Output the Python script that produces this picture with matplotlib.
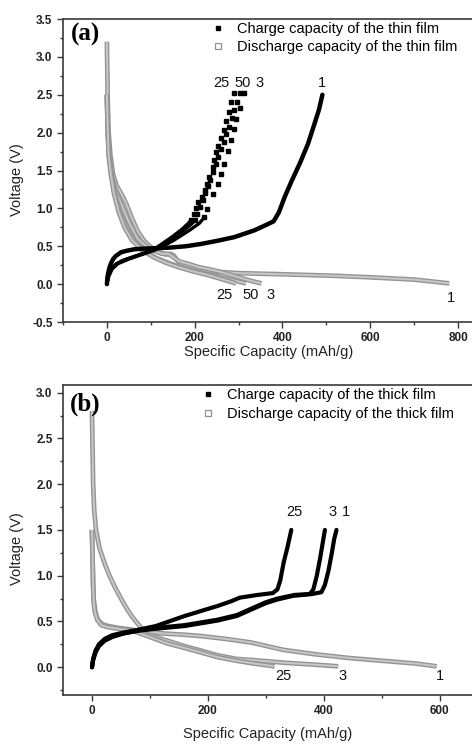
import matplotlib
matplotlib.use("Agg")
import matplotlib.pyplot as plt
from matplotlib.ticker import MultipleLocator, FormatStrFormatter

plt.rcParams['font.family'] = ['Liberation Sans', 'DejaVu Sans']

# ---------------- Panel (a): thin film ----------------
# charge curves (mAh/g, V)
a_chg1_x = [0, 1, 3, 6, 9, 14, 20, 32, 45, 62, 90, 138, 180, 214, 250, 290, 336, 366, 380, 392, 405, 420, 440, 458, 472, 483, 491]
a_chg1_y = [0, 0.08, 0.15, 0.22, 0.27, 0.33, 0.37, 0.42, 0.44, 0.46, 0.47, 0.48, 0.50, 0.53, 0.57, 0.62, 0.71, 0.79, 0.83, 0.95, 1.15, 1.35, 1.60, 1.85, 2.10, 2.30, 2.50]

a_chg25_x = [0, 3, 10, 20, 35, 55, 80, 105, 130, 150, 170, 185, 191]
a_chg25_y = [0, 0.10, 0.20, 0.26, 0.31, 0.35, 0.40, 0.45, 0.55, 0.63, 0.72, 0.80, 0.84]
a_chg25_dx = [191, 198, 203, 208, 216, 223, 228, 233, 241, 245, 248, 254, 260, 266, 271, 279, 283, 290]
a_chg25_dy = [0.84, 0.93, 1.01, 1.08, 1.15, 1.24, 1.32, 1.41, 1.54, 1.64, 1.74, 1.83, 1.93, 2.03, 2.15, 2.27, 2.41, 2.52]

a_chg50_x = [0, 3, 10, 22, 40, 60, 85, 110, 135, 155, 175, 192, 200]
a_chg50_y = [0, 0.10, 0.20, 0.27, 0.32, 0.36, 0.41, 0.46, 0.55, 0.63, 0.71, 0.79, 0.84]
a_chg50_dx = [200, 206, 212, 218, 224, 230, 236, 242, 248, 254, 260, 266, 272, 278, 284, 290, 297, 304]
a_chg50_dy = [0.84, 0.93, 1.02, 1.11, 1.20, 1.29, 1.38, 1.48, 1.58, 1.68, 1.78, 1.88, 1.98, 2.08, 2.19, 2.30, 2.41, 2.52]

a_chg3_x = [0, 4, 12, 25, 50, 80, 110, 150, 188, 210, 222]
a_chg3_y = [0, 0.10, 0.20, 0.27, 0.33, 0.39, 0.45, 0.57, 0.71, 0.80, 0.88]
a_chg3_dx = [222, 229, 241, 252, 260, 267, 275, 282, 289, 294, 304, 313]
a_chg3_dy = [0.88, 0.99, 1.19, 1.32, 1.46, 1.59, 1.76, 1.90, 2.05, 2.18, 2.32, 2.52]

# discharge curves
a_dis1_x = [0, 1, 2, 4, 8, 14, 22, 35, 45, 55, 70, 85, 100, 120, 135, 145, 152, 165, 190, 230, 300, 400, 518, 600, 700, 780]
a_dis1_y = [3.2, 2.8, 2.4, 2.0, 1.7, 1.45, 1.30, 1.17, 1.05, 0.90, 0.70, 0.57, 0.49, 0.42, 0.39, 0.40, 0.38, 0.28, 0.22, 0.17, 0.145, 0.13, 0.11, 0.09, 0.06, 0.01]

a_dis3_x = [0, 2, 6, 12, 22, 35, 50, 70, 95, 125, 140, 150, 165, 190, 205, 230, 260, 300, 330, 352]
a_dis3_y = [2.5, 2.0, 1.65, 1.40, 1.20, 1.02, 0.82, 0.60, 0.47, 0.40, 0.40, 0.36, 0.30, 0.26, 0.23, 0.20, 0.16, 0.09, 0.04, 0.01]

a_dis50_x = [0, 2, 5, 10, 18, 30, 45, 62, 85, 110, 140, 170, 200, 240, 280, 317]
a_dis50_y = [2.5, 2.0, 1.70, 1.45, 1.20, 0.95, 0.74, 0.57, 0.44, 0.35, 0.28, 0.22, 0.17, 0.12, 0.06, 0.01]

a_dis25_x = [0, 2, 4, 9, 16, 27, 40, 57, 80, 105, 135, 165, 195, 230, 265, 294]
a_dis25_y = [2.5, 2.0, 1.70, 1.45, 1.20, 0.95, 0.75, 0.58, 0.45, 0.36, 0.28, 0.22, 0.17, 0.12, 0.06, 0.01]

a_top_labels = ["25", "50", "3", "1"]
a_top_lx = [260, 310, 347, 491]
a_top_ly = [2.66, 2.66, 2.66, 2.66]
a_bot_labels = ["25", "50", "3", "1"]
a_bot_lx = [267, 328, 373, 784]
a_bot_ly = [-0.14, -0.14, -0.14, -0.18]

# ---------------- Panel (b): thick film ----------------
b_chg1_x = [0, 2, 6, 12, 22, 35, 55, 80, 110, 160, 217, 250, 275, 300, 320, 347, 380, 396, 402, 408, 414, 418, 422]
b_chg1_y = [0, 0.08, 0.16, 0.23, 0.29, 0.33, 0.37, 0.40, 0.42, 0.45, 0.51, 0.56, 0.63, 0.70, 0.74, 0.78, 0.80, 0.82, 0.90, 1.05, 1.25, 1.40, 1.50]

b_chg3_x = [0, 2, 6, 12, 22, 35, 55, 80, 110, 160, 217, 250, 275, 300, 320, 350, 376, 382, 388, 394, 398, 402]
b_chg3_y = [0, 0.08, 0.17, 0.24, 0.30, 0.34, 0.37, 0.40, 0.43, 0.46, 0.52, 0.57, 0.64, 0.71, 0.75, 0.79, 0.80, 0.85, 1.00, 1.20, 1.35, 1.50]

b_chg25_x = [0, 2, 6, 12, 22, 35, 55, 80, 110, 160, 217, 240, 255, 286, 312, 320, 325, 331, 337, 344]
b_chg25_y = [0, 0.09, 0.18, 0.25, 0.31, 0.35, 0.38, 0.41, 0.45, 0.56, 0.67, 0.72, 0.76, 0.79, 0.81, 0.85, 0.95, 1.15, 1.30, 1.50]

b_dis1_x = [0, 1, 2, 4, 7, 13, 22, 31, 40, 51, 62, 72, 85, 95, 120, 160, 189, 230, 275, 330, 387, 445, 502, 560, 595]
b_dis1_y = [2.8, 2.4, 2.0, 1.7, 1.5, 1.30, 1.13, 0.99, 0.87, 0.74, 0.62, 0.53, 0.43, 0.39, 0.37, 0.355, 0.34, 0.31, 0.27, 0.19, 0.14, 0.10, 0.07, 0.04, 0.01]

b_dis3_x = [0, 1, 2, 3, 6, 10, 18, 28, 45, 70, 100, 130, 160, 189, 217, 250, 275, 330, 380, 425]
b_dis3_y = [1.5, 1.2, 0.9, 0.74, 0.60, 0.52, 0.47, 0.45, 0.43, 0.41, 0.35, 0.29, 0.23, 0.18, 0.13, 0.09, 0.08, 0.05, 0.03, 0.01]

b_dis25_x = [0, 1, 2, 3, 5, 9, 16, 26, 45, 70, 100, 130, 160, 189, 217, 250, 280, 315]
b_dis25_y = [1.5, 1.2, 0.9, 0.72, 0.60, 0.52, 0.46, 0.44, 0.42, 0.40, 0.33, 0.26, 0.21, 0.16, 0.11, 0.07, 0.04, 0.01]

b_top_labels = ["25", "3", "1"]
b_top_lx = [350, 416, 439]
b_top_ly = [1.70, 1.70, 1.70]
b_bot_labels = ["25", "3", "1"]
b_bot_lx = [330, 433, 600]
b_bot_ly = [-0.10, -0.10, -0.10]

# ---------------- drawing ----------------
W, H = 472, 744
fig = plt.figure(figsize=(W / 100, H / 100), dpi=100)

SPINE = '#3a3a3a'
GRAY_OUT = '#939393'
GRAY_IN = '#c6c6c6'


def draw_charge(ax, x, y, lw=3.0):
    ax.plot(x, y, color='black', lw=lw, solid_capstyle='round', solid_joinstyle='round', zorder=3)


def draw_dots(ax, x, y):
    ax.plot(x, y, 's', color='black', ms=3.0, zorder=3)


def draw_discharge(ax, x, y):
    ax.plot(x, y, color=GRAY_OUT, lw=3.4, solid_capstyle='butt', zorder=2)
    ax.plot(x, y, color=GRAY_IN, lw=1.5, solid_capstyle='butt', zorder=2)


def style_axes(ax):
    for s in ['left', 'bottom', 'top', 'right']:
        ax.spines[s].set_color(SPINE)
        ax.spines[s].set_linewidth(1.2)
    ax.tick_params(which='both', direction='out', color=SPINE, labelsize=8.5,
                   labelcolor='#222222', pad=3)
    ax.tick_params(which='major', length=4.5, width=1)
    ax.tick_params(which='minor', length=2.5, width=1)
    ax.tick_params(top=False, right=False, which='both')
    for lab in ax.get_xticklabels() + ax.get_yticklabels():
        lab.set_fontweight('bold')


def legend(ax, lab1, lab2, anchor):
    h1, = ax.plot([], [], 's', color='black', ms=3.5, label=lab1)
    h2, = ax.plot([], [], 's', mfc='white', mec='#909090', mew=0.9, ms=4.0, label=lab2)
    ax.legend(handles=[h1, h2], loc='upper left', bbox_to_anchor=anchor, frameon=False,
              fontsize=10.5, handlelength=1.0, handletextpad=0.8, labelspacing=0.3,
              borderpad=0, borderaxespad=0)


# axes (a)
axa = fig.add_axes([63 / W, 1 - 322 / H, 417 / W, 303 / H])
axa.set_xlim(-100, 850)
axa.set_ylim(-0.5, 3.5)
axa.xaxis.set_major_locator(MultipleLocator(200))
axa.xaxis.set_minor_locator(MultipleLocator(100))
axa.yaxis.set_major_locator(MultipleLocator(0.5))
axa.yaxis.set_minor_locator(MultipleLocator(0.25))
axa.yaxis.set_major_formatter(FormatStrFormatter('%.1f'))

for x, y in [(a_dis1_x, a_dis1_y), (a_dis3_x, a_dis3_y), (a_dis50_x, a_dis50_y), (a_dis25_x, a_dis25_y)]:
    draw_discharge(axa, x, y)
draw_charge(axa, a_chg1_x, a_chg1_y, lw=3.2)
for x, y in [(a_chg25_x, a_chg25_y), (a_chg50_x, a_chg50_y), (a_chg3_x, a_chg3_y)]:
    draw_charge(axa, x, y, lw=2.4)
for x, y in [(a_chg25_dx, a_chg25_dy), (a_chg50_dx, a_chg50_dy), (a_chg3_dx, a_chg3_dy)]:
    draw_dots(axa, x, y)

for t, x, y in zip(a_top_labels, a_top_lx, a_top_ly):
    axa.text(x, y, t, fontsize=10.5, ha='center', va='center', color='#111111')
for t, x, y in zip(a_bot_labels, a_bot_lx, a_bot_ly):
    axa.text(x, y, t, fontsize=10.5, ha='center', va='center', color='#111111')

axa.text(0.053, 0.95, '(a)', transform=axa.transAxes, fontsize=18, fontweight='bold',
         family=['Liberation Serif', 'DejaVu Serif'], ha='center', va='center')
legend(axa, 'Charge capacity of the thin film', 'Discharge capacity of the thin film', (0.355, 0.99))

axa.set_xlabel('Specific Capacity (mAh/g)', fontsize=10.5, color='#222222')
axa.set_ylabel('Voltage (V)', fontsize=10.5, color='#222222')
axa.xaxis.set_label_coords(0.494, -0.099)
axa.xaxis.label.set_va('center')
axa.yaxis.set_label_coords(-0.110, 0.469)
axa.yaxis.label.set_va('center')

# axes (b)
axb = fig.add_axes([63 / W, 1 - 694.7 / H, 411.4 / W, 309.4 / H])
axb.set_xlim(-50, 660)
axb.set_ylim(-0.3, 3.08)
axb.xaxis.set_major_locator(MultipleLocator(200))
axb.xaxis.set_minor_locator(MultipleLocator(100))
axb.yaxis.set_major_locator(MultipleLocator(0.5))
axb.yaxis.set_minor_locator(MultipleLocator(0.25))
axb.yaxis.set_major_formatter(FormatStrFormatter('%.1f'))

for x, y in [(b_dis1_x, b_dis1_y), (b_dis3_x, b_dis3_y), (b_dis25_x, b_dis25_y)]:
    draw_discharge(axb, x, y)
for x, y in [(b_chg1_x, b_chg1_y), (b_chg3_x, b_chg3_y), (b_chg25_x, b_chg25_y)]:
    draw_charge(axb, x, y, lw=3.0)

for t, x, y in zip(b_top_labels, b_top_lx, b_top_ly):
    axb.text(x, y, t, fontsize=10.5, ha='center', va='center', color='#111111')
for t, x, y in zip(b_bot_labels, b_bot_lx, b_bot_ly):
    axb.text(x, y, t, fontsize=10.5, ha='center', va='center', color='#111111')

axb.text(0.053, 0.94, '(b)', transform=axb.transAxes, fontsize=18, fontweight='bold',
         family=['Liberation Serif', 'DejaVu Serif'], ha='center', va='center')
legend(axb, 'Charge capacity of the thick film', 'Discharge capacity of the thick film', (0.335, 0.99))

axb.set_xlabel('Specific Capacity (mAh/g)', fontsize=10.5, color='#222222')
axb.set_ylabel('Voltage (V)', fontsize=10.5, color='#222222')
axb.xaxis.set_label_coords(0.498, -0.126)
axb.xaxis.label.set_va('center')
axb.yaxis.set_label_coords(-0.112, 0.471)
axb.yaxis.label.set_va('center')

style_axes(axa)
style_axes(axb)

fig.savefig('out.png', dpi=100)
